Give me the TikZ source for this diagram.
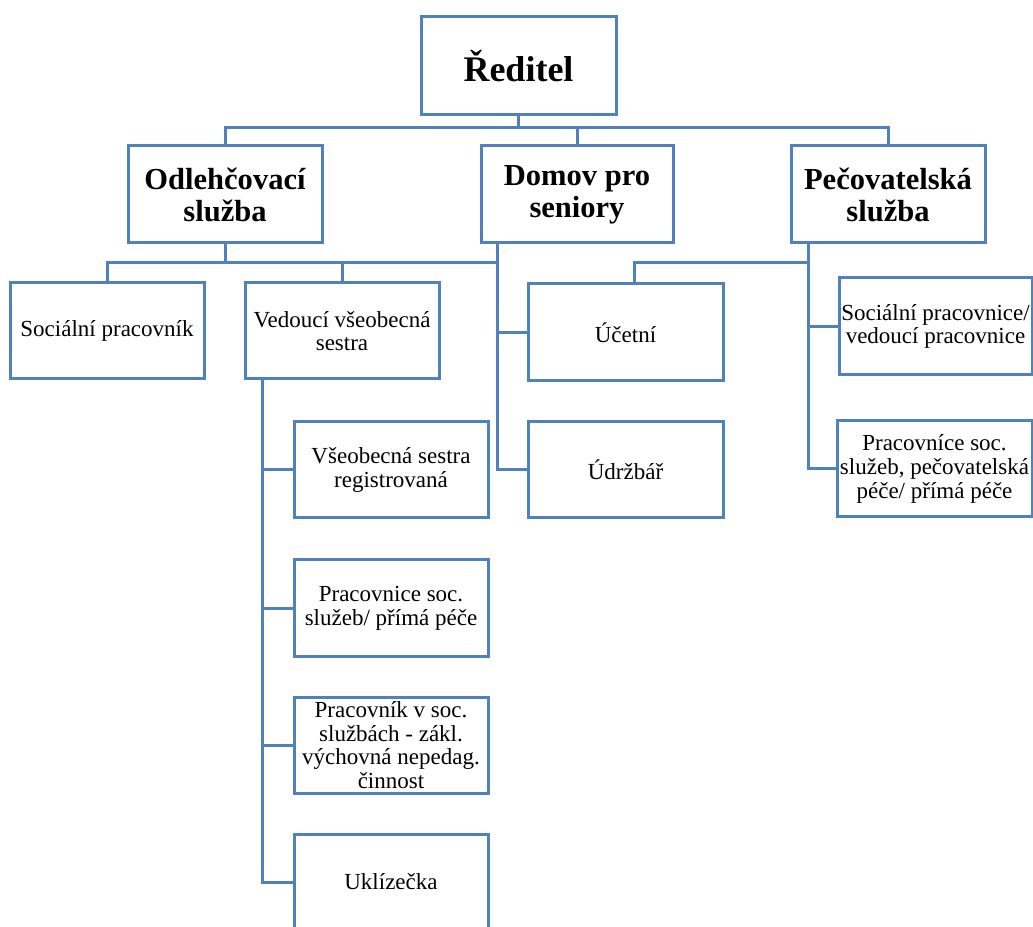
\documentclass[tikz,border=0pt]{standalone}
\usepackage{fontspec}
\setmainfont{Liberation Serif}
\definecolor{orgblue}{RGB}{79,129,189}

\begin{document}
\begin{tikzpicture}[x=0.75pt,y=-0.75pt,
  box/.style={draw=orgblue,line width=2.25pt,inner sep=0pt,minimum width=145.5pt,
    minimum height=72pt,align=center,font=\fontsize{17.25}{17.8}\selectfont},
  head/.style={box,minimum height=72.75pt,font=\fontsize{22.9}{24}\selectfont\bfseries},
  link/.style={orgblue,line width=2.25pt}]
  \useasboundingbox (0,0) rectangle (1033,927);

  % top
  \node[head,minimum width=146.25pt,minimum height=73.5pt,
    font=\fontsize{27}{28}\selectfont\bfseries] (red) at (518.5,66) {Ředitel};
  \node[head] (odl) at (225,194.5) {Odlehčovací\\služba};
  \node[head,minimum width=144pt] (dom) at (577,194.5) {Domov pro\\seniory};
  \node[head] (pec) at (888,194.5) {Pečovatelská\\služba};

  % Odlehcovaci sluzba
  \node[box] (socprac) at (107,331) {Sociální pracovník};
  \node[box] (ved) at (342,331) {Vedoucí všeobecná\\sestra};
  \node[box] (vse) at (391,470) {Všeobecná sestra\\registrovaná};
  \node[box] (ppp) at (391,608) {Pracovnice soc.\\služeb/ přímá péče};
  \node[box] (pvs) at (391,745) {Pracovník v soc.\\službách\ - zákl.\\výchovná nepedag.\\činnost};
  \node[box] (ukl) at (391,882) {Uklízečka};

  % Domov pro seniory
  \node[box,minimum width=146.25pt,minimum height=72.75pt] (uct) at (625.5,332.5) {Účetní};
  \node[box,minimum width=146.25pt] (udr) at (625.5,470) {Údržbář};

  % Pecovatelska sluzba
  \node[box,minimum width=144.75pt,minimum height=72.75pt] (spc) at (935.5,326.5) {Sociální pracovnice/\\vedoucí pracovnice};
  \node[box,minimum width=146.25pt] (pps) at (934.5,469) {Pracovníce soc.\\služeb, pečovatelská\\péče/ přímá péče};

  \draw[link] (red.south) -- ++(0,11) -| (odl.north);
  \draw[link] (red.south) -- ++(0,11) -| (dom.north);
  \draw[link] (red.south) -- ++(0,11) -| (pec.north);

  \coordinate (obus) at (225,263);
  \draw[link] (odl.south) -- (obus) -| (socprac.north);
  \draw[link] (obus) -| (ved.north);

  \draw[link] (dom.south west) ++(18,0) coordinate (dt) |- (uct.west);
  \draw[link] (dt) |- (udr.west);
  \draw[link] (obus) -- (obus -| dt);

  \draw[link] (ved.south west) ++(19,0) coordinate (vt) |- (vse.west);
  \draw[link] (vt) |- (ppp.west);
  \draw[link] (vt) |- (pvs.west);
  \draw[link] (vt) |- (ukl.west);

  \draw[link] (pec.south west) ++(19,0) coordinate (pt) |- (spc.west);
  \draw[link] (pt) |- (pps.west);
  \draw[link] (uct.north) ++(8.5,0) |- (pt |- obus);
\end{tikzpicture}
\end{document}
